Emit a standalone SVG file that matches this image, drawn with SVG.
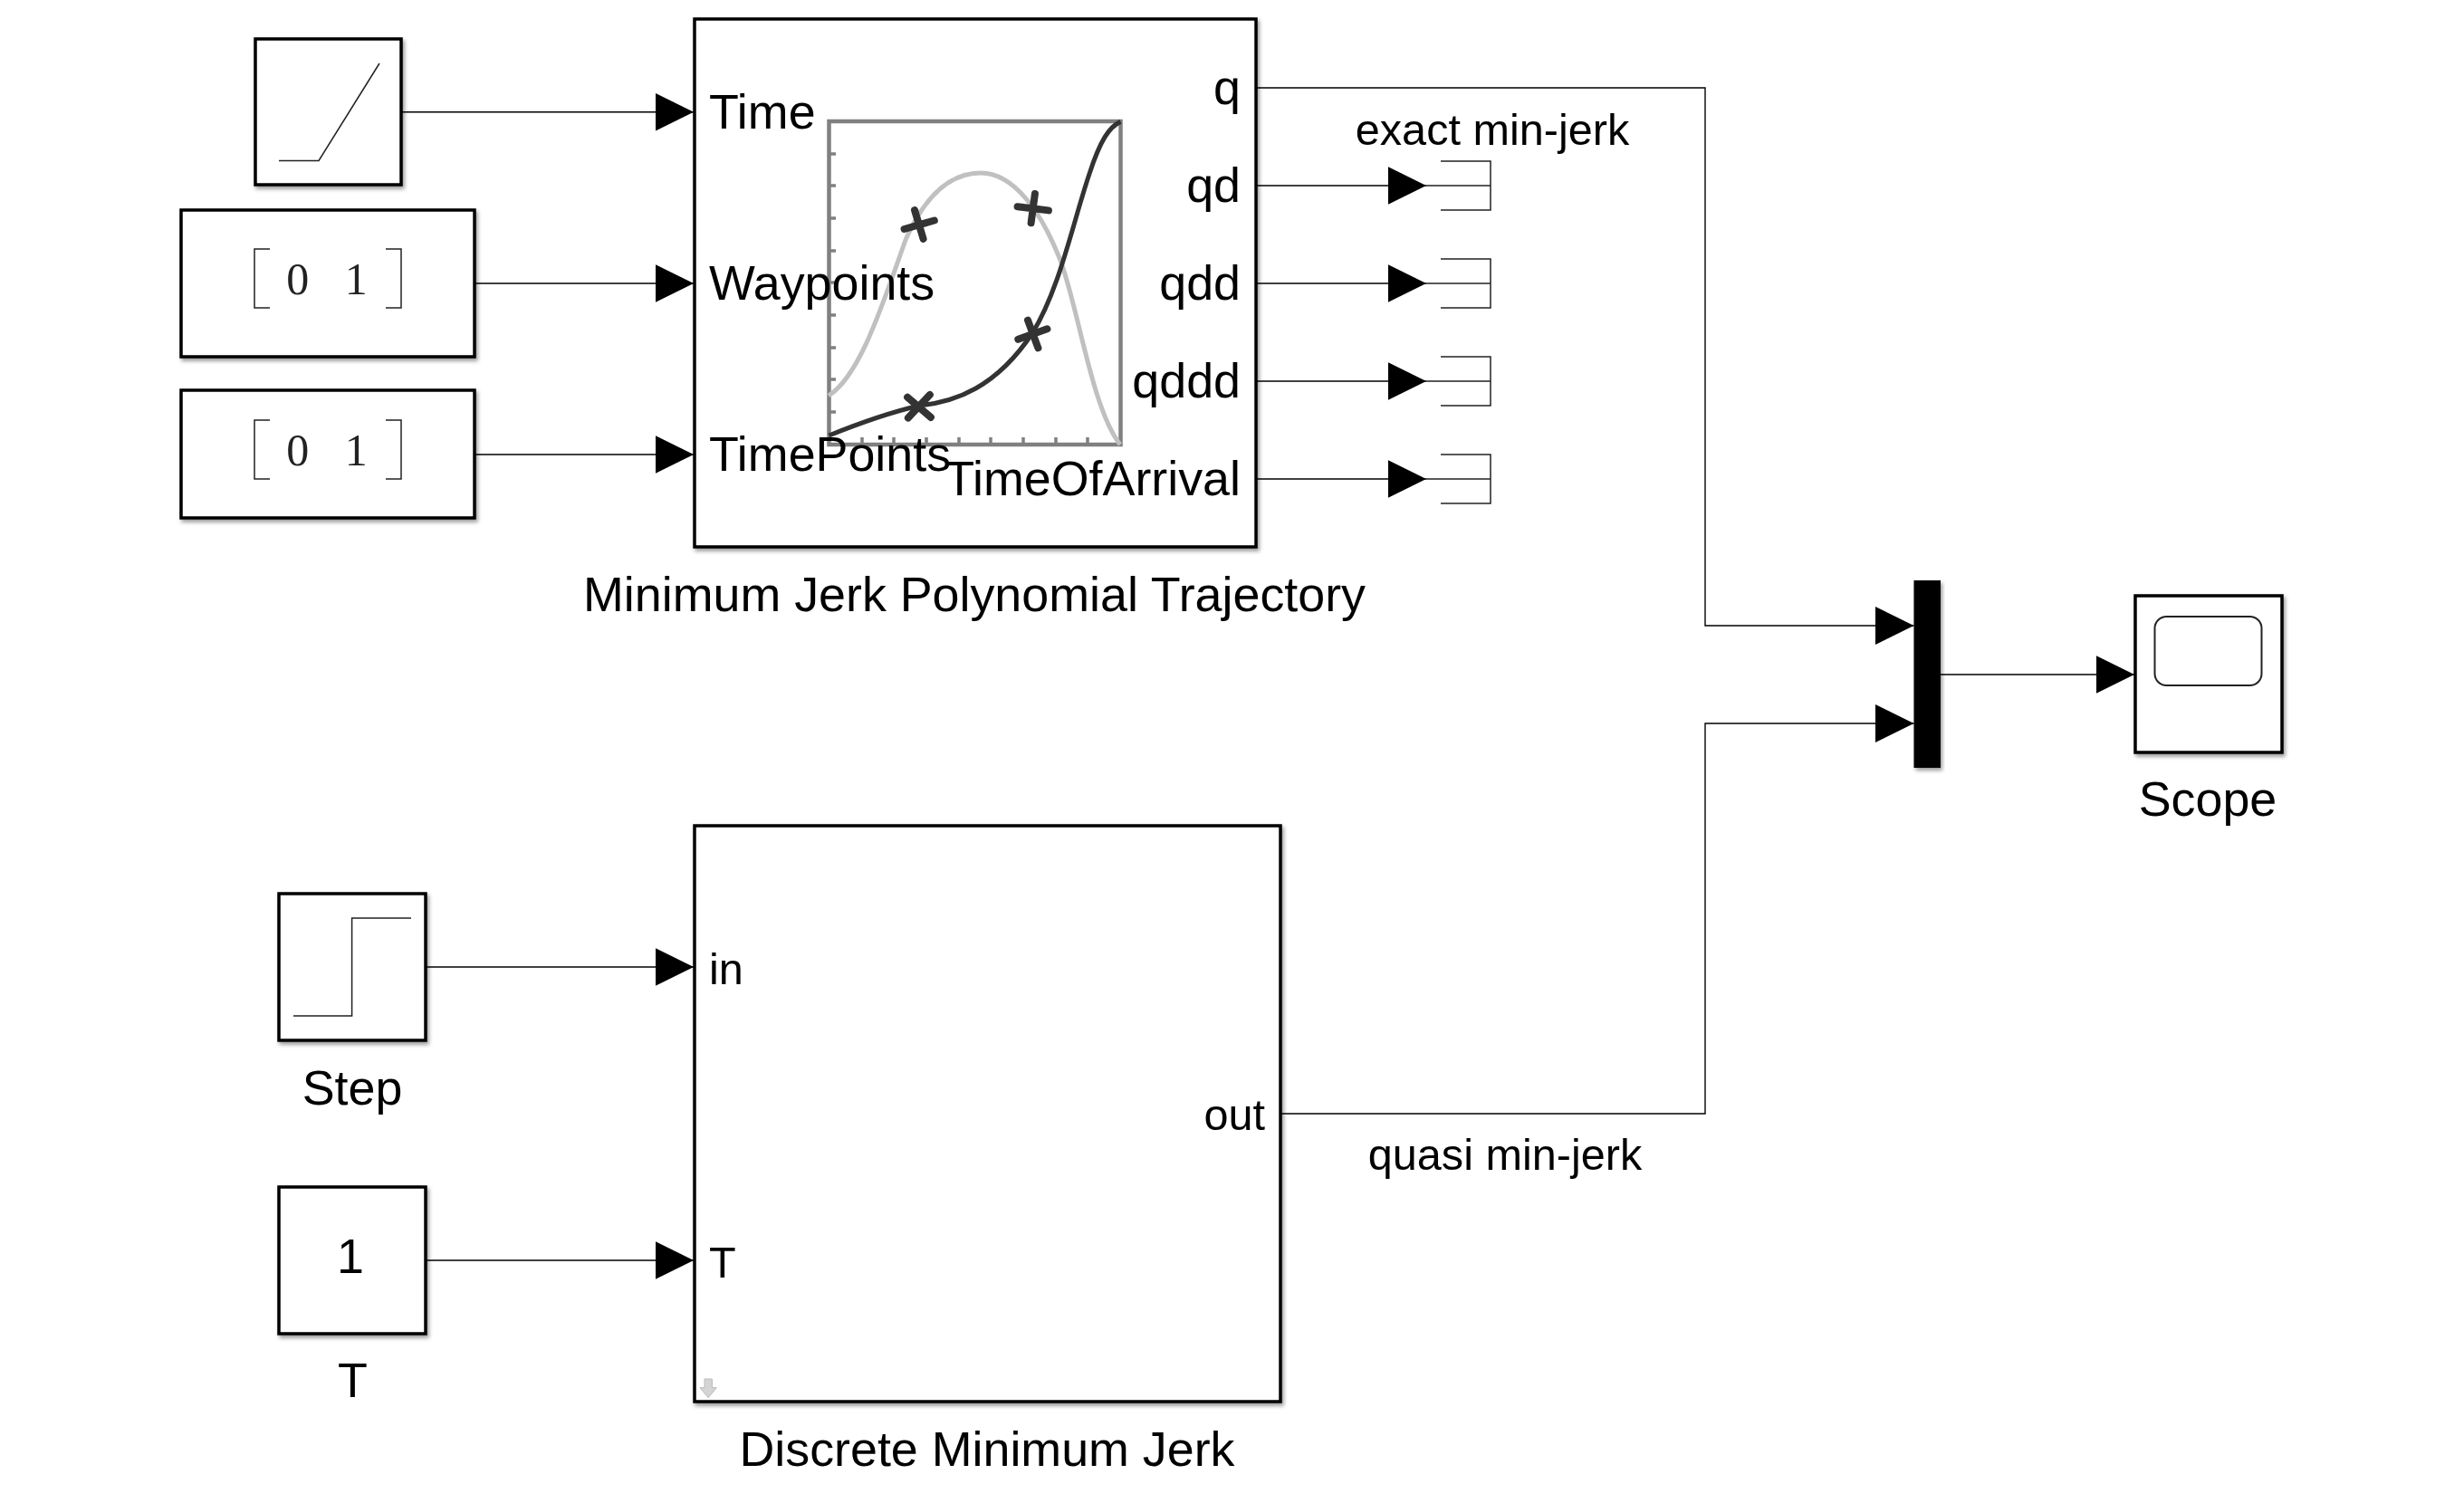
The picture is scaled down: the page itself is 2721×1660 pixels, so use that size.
<svg xmlns="http://www.w3.org/2000/svg" width="2721" height="1660" viewBox="0 0 2721 1660">
<style>
text{font-family:"Liberation Sans",Arial,sans-serif;fill:#000}
.b{fill:#fff;stroke:#000;stroke-width:3.5;filter:url(#sh)}
.l{font-size:53.8px}
.m{font-size:48.600px}
.e{text-anchor:end}
.c{text-anchor:middle}
.i{fill:none;stroke:#222;stroke-width:1.5}
.mono{font-family:"Liberation Serif",serif;font-size:50px;word-spacing:27px;text-anchor:middle;fill:#222}
.w{fill:none;stroke:#000;stroke-width:1.4;marker-end:url(#a)}
.t{fill:none;stroke:#333;stroke-width:8;stroke-linecap:round}
.tick{fill:none;stroke:#808080;stroke-width:3.5}
</style>
<defs>
<filter id="sh" x="-10%" y="-10%" width="125%" height="125%"><feDropShadow dx="2" dy="3" stdDeviation="2" flood-color="#000" flood-opacity=".4"/></filter>
<marker id="a" markerUnits="userSpaceOnUse" markerWidth="44" markerHeight="44" refX="42.5" refY="21.5" orient="auto"><path d="M0,0.5 L42.5,21.5 L0,42.5 Z" fill="#000"/></marker>
</defs>
<rect width="2721" height="1660" fill="#fff"/>
<g id="connectors">
<path class="w" d="M443,123.800H766"/>
<path class="w" d="M524,313H766"/>
<path class="w" d="M524,502H766"/>
<path class="w" d="M1387,205H1575"/>
<path class="w" d="M1387,313H1575"/>
<path class="w" d="M1387,421H1575"/>
<path class="w" d="M1387,529H1575"/>
<path class="w" d="M1387,97H1883V691H2113.500"/>
<path class="w" d="M1414,1230H1883V799H2113.500"/>
<path class="w" d="M2143,745H2357"/>
<path class="w" d="M470,1068H766"/>
<path class="w" d="M470,1392H766"/>
<text class="m c" x="1648" y="160">exact min-jerk</text>
<text class="m c" x="1662" y="1292">quasi min-jerk</text>
</g>
<g id="ramp">
<rect class="b" x="282" y="43" width="161" height="161"/>
<path class="i" d="M308,177.500H352L419,70"/>
</g>
<g id="waypoints-const">
<rect class="b" x="200" y="232" width="324" height="162"/>
<path class="i" d="M298,275H281V340H298M426,275H443V340H426"/>
<text class="mono" x="361" y="325">0 1</text>
</g>
<g id="timepoints-const">
<rect class="b" x="200" y="431" width="324" height="141"/>
<path class="i" d="M298,464H281V529H298M426,464H443V529H426"/>
<text class="mono" x="361" y="514">0 1</text>
</g>
<g id="trajectory">
<rect class="b" x="767" y="21" width="620" height="583"/>
<rect x="915.500" y="134" width="322" height="357" fill="none" stroke="#808080" stroke-width="4.500"/>
<path class="tick" d="M915,170h8M915,205h8M915,241h8M915,277h8M915,312h8M915,348h8M915,384h8M915,419h8M915,455h8M952,491v-8M987,491v-8M1023,491v-8M1059,491v-8M1094,491v-8M1130,491v-8M1166,491v-8M1201,491v-8"/>
<path fill="none" stroke="#c0c0c0" stroke-width="5" d="M915,437C950,415 975,335 1000,265C1022,215 1050,191 1083,191C1120,191 1150,235 1170,285C1190,335 1205,450 1237,491"/>
<path fill="none" stroke="#333" stroke-width="5" d="M915.400,481C950,467 985,455 1015,448C1055,444 1100,428 1140,368C1170,320 1185,245 1203,192C1215,155 1225,140 1237.500,134.400"/>
<path class="t" d="M1010,232L1019.600,263.800M998.600,253L1031.800,243.500M1142.900,214L1138.600,246.200M1123.600,228.200L1157.900,232.400M1135,353.700L1146.400,384.300M1124.300,374.800L1156.400,363.300M1002.100,438.700L1027.900,460.900M1002.900,461.600L1026.800,436"/>
<text class="l" x="783" y="142">Time</text>
<text class="l" x="783" y="331.400">Waypoints</text>
<text class="l" x="783" y="520.400">TimePoints</text>
<text class="l e" x="1370" y="115">q</text>
<text class="l e" x="1370" y="223">qd</text>
<text class="l e" x="1370" y="331">qdd</text>
<text class="l e" x="1370" y="439">qddd</text>
<text class="l e" x="1370" y="547">TimeOfArrival</text>
<text class="l c" x="1076" y="674.500">Minimum Jerk Polynomial Trajectory</text>
</g>
<g id="term-qd"><path class="i" d="M1575,205H1646M1591,178H1646V232H1591"/></g>
<g id="term-qdd"><path class="i" d="M1575,313H1646M1591,286H1646V340H1591"/></g>
<g id="term-qddd"><path class="i" d="M1575,421H1646M1591,394H1646V448H1591"/></g>
<g id="term-toa"><path class="i" d="M1575,529H1646M1591,502H1646V556H1591"/></g>
<g id="mux"><rect x="2113.500" y="641" width="29.500" height="207" fill="#000" filter="url(#sh)"/></g>
<g id="scope">
<rect class="b" x="2358" y="658" width="162" height="173"/>
<rect x="2379.500" y="681" width="118" height="76" rx="13" fill="none" stroke="#222" stroke-width="2"/>
<text class="l c" x="2438" y="901">Scope</text>
</g>
<g id="step">
<rect class="b" x="308" y="987" width="162" height="162"/>
<path class="i" d="M324,1122H388.600V1014H454"/>
<text class="l c" x="389" y="1219.500">Step</text>
</g>
<g id="t-const">
<rect class="b" x="308" y="1311" width="162" height="162"/>
<text class="l c" x="387" y="1406">1</text>
<text class="l c" x="389.500" y="1543">T</text>
</g>
<g id="discrete">
<rect class="b" x="767" y="912" width="647" height="636"/>
<path d="M778,1523H786.400V1532.700H791.300L782.200,1543.700L773,1532.700H778Z" fill="#d4d4d4" stroke="#bbb" stroke-width="1"/>
<text class="m" x="783" y="1087">in</text>
<text class="m" x="783" y="1410.500">T</text>
<text class="m e" x="1397" y="1248">out</text>
<text class="l c" x="1090" y="1618.500">Discrete Minimum Jerk</text>
</g>
</svg>
